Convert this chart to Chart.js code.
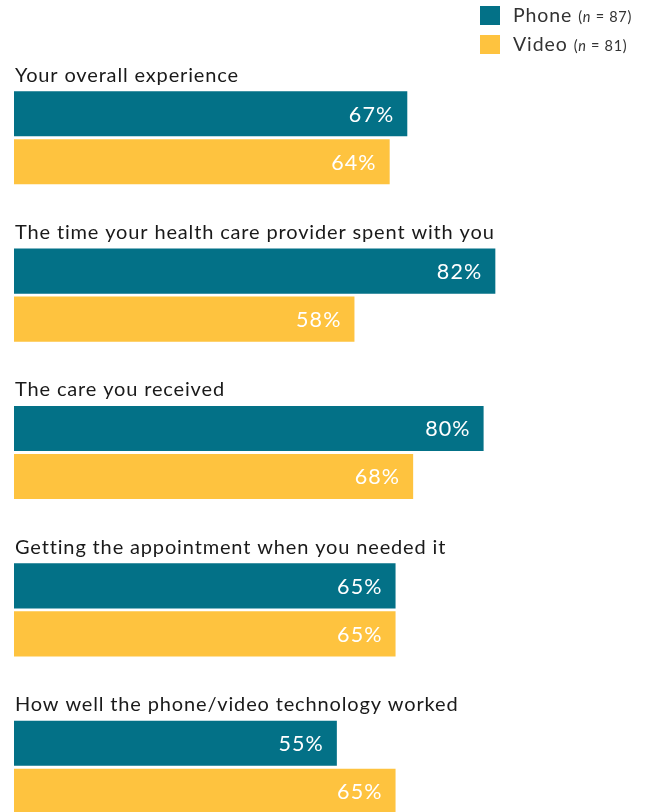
<html>
<head>
<title>Telehealth ratings</title>
<script src="https://cdn.jsdelivr.net/npm/chart.js@4.4.1/dist/chart.umd.min.js"></script>
<style>
  html, body { margin: 0; padding: 0; background: #fff; overflow: hidden; }
  #wrap { position: relative; width: 645px; height: 846px; }
</style>
</head>
<body>
<div id="wrap">
  <canvas id="myChart" width="645" height="846"></canvas>
</div>
<script type="text/javascript">
var categories = [
  "Your overall experience",
  "The time your health care provider spent with you",
  "The care you received",
  "Getting the appointment when you needed it",
  "How well the phone/video technology worked"
];
var phoneValues = [67, 82, 80, 65, 55];
var videoValues = [64, 58, 68, 65, 65];
var seriesNames = ["Phone", "Video"];
var seriesCounts = ["87", "81"];

var teal = "#037187";
var gold = "#FEC33F";
var FONT = "Lato, 'Noto Sans', sans-serif";

// question text above each pair of bars, and the value inside each bar
var barText = {
  id: "barText",
  afterDatasetsDraw: function(chart) {
    var ctx = chart.ctx;
    ctx.save();
    var first = chart.getDatasetMeta(0);
    first.data.forEach(function(bar, i) {
      var top = bar.y - bar.height / 2;
      ctx.fillStyle = "#1a1a1a";
      ctx.font = "20px " + FONT;
      ctx.letterSpacing = "0.85px";
      ctx.textAlign = "left";
      ctx.textBaseline = "middle";
      ctx.fillText(categories[i], 15, top - 16);
    });
    chart.data.datasets.forEach(function(ds, d) {
      var meta = chart.getDatasetMeta(d);
      meta.data.forEach(function(bar, i) {
        ctx.fillStyle = "#ffffff";
        ctx.font = "21.5px " + FONT;
        ctx.letterSpacing = "1.1px";
        ctx.textAlign = "right";
        ctx.textBaseline = "middle";
        ctx.fillText(ds.data[i] + "%", bar.x - 13, bar.y + 1);
      });
    });
    ctx.restore();
  }
};

// legend in the top right corner
var cornerLegend = {
  id: "cornerLegend",
  afterDraw: function(chart) {
    var ctx = chart.ctx;
    ctx.save();
    var colors = [teal, gold];
    seriesNames.forEach(function(name, i) {
      var y = 6 + i * 29;
      ctx.fillStyle = colors[i];
      ctx.fillRect(480, y, 20, 19);
      ctx.fillStyle = "#333333";
      ctx.textAlign = "left";
      ctx.textBaseline = "alphabetic";
      ctx.letterSpacing = "0.9px";
      ctx.font = "19.5px " + FONT;
      ctx.fillText(name, 513, y + 16);
      var x = 513 + ctx.measureText(name).width + 6;
      ctx.letterSpacing = "0.7px";
      ctx.font = "14.5px " + FONT;
      ctx.fillText("(", x, y + 16);
      x += ctx.measureText("(").width;
      ctx.font = "italic 14.5px " + FONT;
      ctx.fillText("n", x, y + 16);
      x += ctx.measureText("n").width;
      ctx.font = "14.5px " + FONT;
      ctx.fillText(" = " + seriesCounts[i] + ")", x, y + 16);
    });
    ctx.restore();
  }
};

var ctx = document.getElementById("myChart").getContext("2d");
var myChart = new Chart(ctx, {
  type: "bar",
  data: {
    labels: categories,
    datasets: [{
      label: seriesNames[0],
      data: phoneValues,
      backgroundColor: teal,
      borderWidth: 0
    }, {
      label: seriesNames[1],
      data: videoValues,
      backgroundColor: gold,
      borderWidth: 0
    }]
  },
  options: {
    indexAxis: "y",
    responsive: false,
    animation: false,
    devicePixelRatio: 1,
    categoryPercentage: 0.61,
    barPercentage: 0.94,
    layout: { padding: { left: 14, right: 44, top: 59, bottom: 0 } },
    scales: {
      x: { display: false, min: 0, max: 100, grid: { display: false } },
      y: { display: false, grid: { display: false } }
    },
    plugins: {
      legend: { display: false },
      tooltip: { enabled: false }
    }
  },
  plugins: [barText, cornerLegend]
});
</script>
</body>
</html>
